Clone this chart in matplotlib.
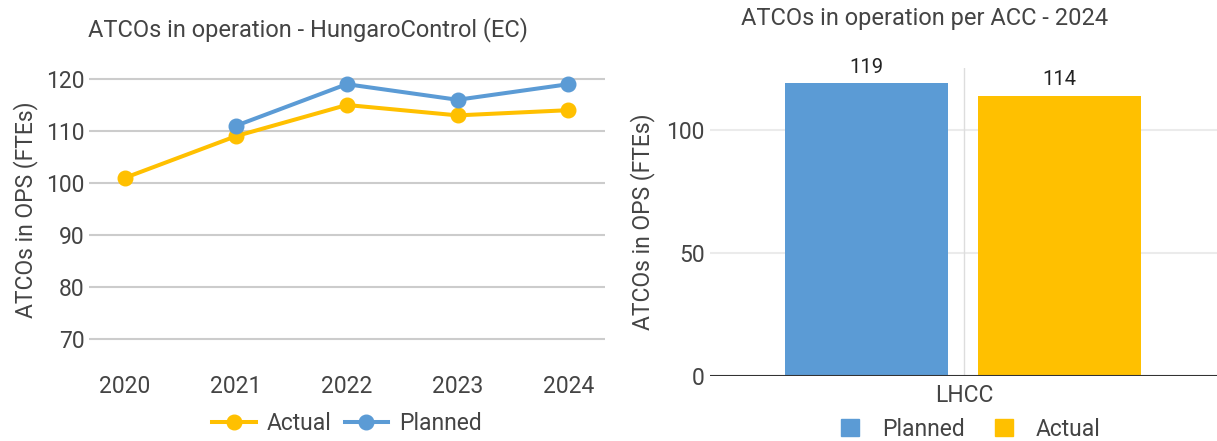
import matplotlib.pyplot as plt
from matplotlib.patches import Patch
from matplotlib.lines import Line2D

plt.rcParams['font.family'] = ['Roboto', 'DejaVu Sans']

years = [2020, 2021, 2022, 2023, 2024]
actual = [101, 109, 115, 113, 114]
planned = [None, 111, 119, 116, 119]

acc = ["LHCC"]
planned_2024 = [119]
actual_2024 = [114]

blue = "#5b9bd5"
yellow = "#ffc000"
txt = "#444444"

fig = plt.figure(figsize=(12.17, 4.41), dpi=100)

# left : line chart
ax1 = fig.add_axes([89/1217, 81/441, 516/1217, 300/441])
ax1.plot(years, actual, color=yellow, lw=2.9, marker='o', ms=10.5, zorder=3)
px = [y for y, v in zip(years, planned) if v is not None]
pv = [v for v in planned if v is not None]
ax1.plot(px, pv, color=blue, lw=2.9, marker='o', ms=10.5, zorder=4)
ax1.set_xlim(2019.675, 2024.33)
ax1.set_ylim(65.96, 123.65)
ax1.set_yticks([70, 80, 90, 100, 110, 120])
ax1.set_xticks(years)
ax1.grid(axis='y', color='#cccccc', lw=1.5)
ax1.set_axisbelow(True)
for s in ax1.spines.values():
    s.set_visible(False)
ax1.tick_params(length=0, labelsize=16.5, colors=txt, pad=3)
ax1.tick_params(axis='x', pad=11)
ax1.set_ylabel("ATCOs in OPS (FTEs)", fontsize=16.5, color=txt, labelpad=6)
fig.text(308/1217, 1 - 30/441, "ATCOs in operation - HungaroControl (EC)",
         ha='center', va='center', fontsize=17, color=txt)
h1 = [Line2D([], [], color=yellow, lw=2.9, marker='o', ms=10.5),
      Line2D([], [], color=blue, lw=2.9, marker='o', ms=10.5)]
fig.legend(h1, ["Actual", "Planned"], loc='center', bbox_to_anchor=(347/1217, 1 - 424/441),
           ncol=2, frameon=False, fontsize=16.5, handlelength=1.9, handletextpad=0.48,
           columnspacing=0.57, labelcolor=txt)

# right : bar chart
ax2 = fig.add_axes([710/1217, 65/441, 508/1217, 308/441])
w = 0.321
b1 = ax2.bar([-0.192], planned_2024, width=w, color=blue, zorder=3)
b2 = ax2.bar([0.188], actual_2024, width=w, color=yellow, zorder=3)
for bars in (b1, b2):
    for r in bars:
        ax2.text(r.get_x() + r.get_width()/2, r.get_height() + 2.5, str(int(r.get_height())),
                 ha='center', va='bottom', fontsize=14.5, color='#222222')
ax2.set_xlim(-0.5, 0.5)
ax2.set_ylim(0, 125.2)
ax2.set_yticks([0, 50, 100])
ax2.set_xticks([0])
ax2.set_xticklabels(acc)
ax2.grid(axis='y', color='#ebebeb', lw=1.5)
ax2.axvline(0, color='#dddddd', lw=1, zorder=1)
ax2.set_axisbelow(True)
for s in ax2.spines.values():
    s.set_visible(False)
ax2.axhline(0, color='#333333', lw=1.5, zorder=4)
ax2.tick_params(length=0, labelsize=16.5, colors=txt, pad=4)
ax2.tick_params(axis='x', pad=6)
ax2.set_ylabel("ATCOs in OPS (FTEs)", fontsize=16.5, color=txt, labelpad=8)
fig.text(925/1217, 1 - 18/441, "ATCOs in operation per ACC - 2024",
         ha='center', va='center', fontsize=17, color=txt)
h2 = [Patch(color=blue), Patch(color=yellow)]
fig.legend(h2, ["Planned", "Actual"], loc='center', bbox_to_anchor=(971/1217, 1 - 429/441),
           ncol=2, frameon=False, fontsize=16.5, handlelength=0.8, handleheight=0.8,
           handletextpad=1.0, columnspacing=1.3, labelcolor=txt)

fig.savefig("out.png", dpi=100)
